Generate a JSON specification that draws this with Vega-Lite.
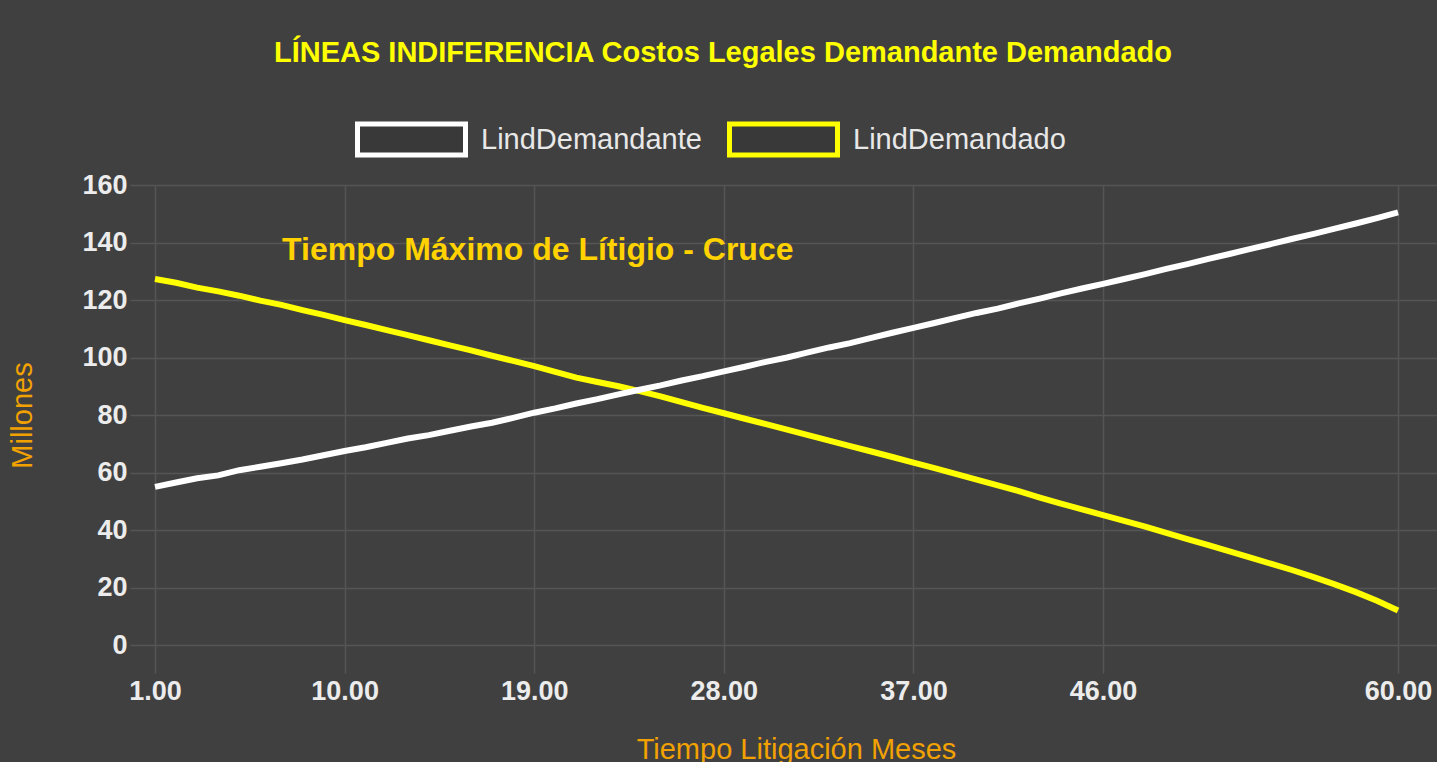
{
  "$schema": "https://vega.github.io/schema/vega-lite/v6.json",
  "autosize": {"type": "none"},
  "width": 1282,
  "height": 460,
  "padding": {"left": 155, "top": 185, "right": 0, "bottom": 117},
  "background": "#404040",
  "config": {
    "view": {"stroke": null},
    "font": "Liberation Sans"
  },
  "title": {
    "text": "LÍNEAS INDIFERENCIA Costos Legales Demandante Demandado",
    "fontSize": 29,
    "fontWeight": "bold",
    "color": "#ffff00",
    "font": "Liberation Sans",
    "anchor": "middle",
    "frame": "bounds",
    "offset": 15
  },
  "datasets": {
    "series": [
      {"mes": 1, "serie": "LindDemandado", "valor": 127.3},
      {"mes": 2, "serie": "LindDemandado", "valor": 126.0},
      {"mes": 3, "serie": "LindDemandado", "valor": 124.3},
      {"mes": 4, "serie": "LindDemandado", "valor": 123.0},
      {"mes": 5, "serie": "LindDemandado", "valor": 121.5},
      {"mes": 6, "serie": "LindDemandado", "valor": 119.8},
      {"mes": 7, "serie": "LindDemandado", "valor": 118.3},
      {"mes": 8, "serie": "LindDemandado", "valor": 116.5},
      {"mes": 9, "serie": "LindDemandado", "valor": 114.8},
      {"mes": 10, "serie": "LindDemandado", "valor": 113.0},
      {"mes": 11, "serie": "LindDemandado", "valor": 111.3},
      {"mes": 12, "serie": "LindDemandado", "valor": 109.5},
      {"mes": 13, "serie": "LindDemandado", "valor": 107.8},
      {"mes": 14, "serie": "LindDemandado", "valor": 106.0},
      {"mes": 15, "serie": "LindDemandado", "valor": 104.2},
      {"mes": 16, "serie": "LindDemandado", "valor": 102.5},
      {"mes": 17, "serie": "LindDemandado", "valor": 100.6},
      {"mes": 18, "serie": "LindDemandado", "valor": 98.8},
      {"mes": 19, "serie": "LindDemandado", "valor": 97.0},
      {"mes": 20, "serie": "LindDemandado", "valor": 95.0},
      {"mes": 21, "serie": "LindDemandado", "valor": 93.0},
      {"mes": 22, "serie": "LindDemandado", "valor": 91.5},
      {"mes": 23, "serie": "LindDemandado", "valor": 90.0},
      {"mes": 24, "serie": "LindDemandado", "valor": 88.3},
      {"mes": 25, "serie": "LindDemandado", "valor": 86.5},
      {"mes": 26, "serie": "LindDemandado", "valor": 84.5},
      {"mes": 27, "serie": "LindDemandado", "valor": 82.5},
      {"mes": 28, "serie": "LindDemandado", "valor": 80.6},
      {"mes": 29, "serie": "LindDemandado", "valor": 78.7},
      {"mes": 30, "serie": "LindDemandado", "valor": 76.8},
      {"mes": 31, "serie": "LindDemandado", "valor": 74.9},
      {"mes": 32, "serie": "LindDemandado", "valor": 73.0},
      {"mes": 33, "serie": "LindDemandado", "valor": 71.1},
      {"mes": 34, "serie": "LindDemandado", "valor": 69.2},
      {"mes": 35, "serie": "LindDemandado", "valor": 67.3},
      {"mes": 36, "serie": "LindDemandado", "valor": 65.4},
      {"mes": 37, "serie": "LindDemandado", "valor": 63.4},
      {"mes": 38, "serie": "LindDemandado", "valor": 61.5},
      {"mes": 39, "serie": "LindDemandado", "valor": 59.5},
      {"mes": 40, "serie": "LindDemandado", "valor": 57.5},
      {"mes": 41, "serie": "LindDemandado", "valor": 55.5},
      {"mes": 42, "serie": "LindDemandado", "valor": 53.5},
      {"mes": 43, "serie": "LindDemandado", "valor": 51.3},
      {"mes": 44, "serie": "LindDemandado", "valor": 49.2},
      {"mes": 45, "serie": "LindDemandado", "valor": 47.2},
      {"mes": 46, "serie": "LindDemandado", "valor": 45.2},
      {"mes": 47, "serie": "LindDemandado", "valor": 43.2},
      {"mes": 48, "serie": "LindDemandado", "valor": 41.2},
      {"mes": 49, "serie": "LindDemandado", "valor": 39.0},
      {"mes": 50, "serie": "LindDemandado", "valor": 36.8},
      {"mes": 51, "serie": "LindDemandado", "valor": 34.7},
      {"mes": 52, "serie": "LindDemandado", "valor": 32.6},
      {"mes": 53, "serie": "LindDemandado", "valor": 30.4},
      {"mes": 54, "serie": "LindDemandado", "valor": 28.2},
      {"mes": 55, "serie": "LindDemandado", "valor": 26.0},
      {"mes": 56, "serie": "LindDemandado", "valor": 23.6},
      {"mes": 57, "serie": "LindDemandado", "valor": 21.1},
      {"mes": 58, "serie": "LindDemandado", "valor": 18.4},
      {"mes": 59, "serie": "LindDemandado", "valor": 15.4},
      {"mes": 60, "serie": "LindDemandado", "valor": 12.0},
      {"mes": 1, "serie": "LindDemandante", "valor": 55.0},
      {"mes": 2, "serie": "LindDemandante", "valor": 56.5},
      {"mes": 3, "serie": "LindDemandante", "valor": 58.0},
      {"mes": 4, "serie": "LindDemandante", "valor": 59.0},
      {"mes": 5, "serie": "LindDemandante", "valor": 60.8},
      {"mes": 6, "serie": "LindDemandante", "valor": 62.0},
      {"mes": 7, "serie": "LindDemandante", "valor": 63.2},
      {"mes": 8, "serie": "LindDemandante", "valor": 64.5},
      {"mes": 9, "serie": "LindDemandante", "valor": 66.0},
      {"mes": 10, "serie": "LindDemandante", "valor": 67.5},
      {"mes": 11, "serie": "LindDemandante", "valor": 68.8},
      {"mes": 12, "serie": "LindDemandante", "valor": 70.3},
      {"mes": 13, "serie": "LindDemandante", "valor": 71.8},
      {"mes": 14, "serie": "LindDemandante", "valor": 73.0},
      {"mes": 15, "serie": "LindDemandante", "valor": 74.5},
      {"mes": 16, "serie": "LindDemandante", "valor": 76.0},
      {"mes": 17, "serie": "LindDemandante", "valor": 77.3},
      {"mes": 18, "serie": "LindDemandante", "valor": 79.0},
      {"mes": 19, "serie": "LindDemandante", "valor": 80.8},
      {"mes": 20, "serie": "LindDemandante", "valor": 82.3},
      {"mes": 21, "serie": "LindDemandante", "valor": 84.0},
      {"mes": 22, "serie": "LindDemandante", "valor": 85.5},
      {"mes": 23, "serie": "LindDemandante", "valor": 87.2},
      {"mes": 24, "serie": "LindDemandante", "valor": 88.8},
      {"mes": 25, "serie": "LindDemandante", "valor": 90.3},
      {"mes": 26, "serie": "LindDemandante", "valor": 92.0},
      {"mes": 27, "serie": "LindDemandante", "valor": 93.5},
      {"mes": 28, "serie": "LindDemandante", "valor": 95.2},
      {"mes": 29, "serie": "LindDemandante", "valor": 96.8},
      {"mes": 30, "serie": "LindDemandante", "valor": 98.5},
      {"mes": 31, "serie": "LindDemandante", "valor": 100.0},
      {"mes": 32, "serie": "LindDemandante", "valor": 101.8},
      {"mes": 33, "serie": "LindDemandante", "valor": 103.5},
      {"mes": 34, "serie": "LindDemandante", "valor": 105.0},
      {"mes": 35, "serie": "LindDemandante", "valor": 106.8},
      {"mes": 36, "serie": "LindDemandante", "valor": 108.6},
      {"mes": 37, "serie": "LindDemandante", "valor": 110.3},
      {"mes": 38, "serie": "LindDemandante", "valor": 112.0},
      {"mes": 39, "serie": "LindDemandante", "valor": 113.8},
      {"mes": 40, "serie": "LindDemandante", "valor": 115.5},
      {"mes": 41, "serie": "LindDemandante", "valor": 117.0},
      {"mes": 42, "serie": "LindDemandante", "valor": 118.8},
      {"mes": 43, "serie": "LindDemandante", "valor": 120.5},
      {"mes": 44, "serie": "LindDemandante", "valor": 122.3},
      {"mes": 45, "serie": "LindDemandante", "valor": 124.0},
      {"mes": 46, "serie": "LindDemandante", "valor": 125.6},
      {"mes": 47, "serie": "LindDemandante", "valor": 127.3},
      {"mes": 48, "serie": "LindDemandante", "valor": 129.0},
      {"mes": 49, "serie": "LindDemandante", "valor": 130.8},
      {"mes": 50, "serie": "LindDemandante", "valor": 132.5},
      {"mes": 51, "serie": "LindDemandante", "valor": 134.3},
      {"mes": 52, "serie": "LindDemandante", "valor": 136.0},
      {"mes": 53, "serie": "LindDemandante", "valor": 137.8},
      {"mes": 54, "serie": "LindDemandante", "valor": 139.5},
      {"mes": 55, "serie": "LindDemandante", "valor": 141.3},
      {"mes": 56, "serie": "LindDemandante", "valor": 143.0},
      {"mes": 57, "serie": "LindDemandante", "valor": 144.8},
      {"mes": 58, "serie": "LindDemandante", "valor": 146.6},
      {"mes": 59, "serie": "LindDemandante", "valor": 148.5},
      {"mes": 60, "serie": "LindDemandante", "valor": 150.5}
    ],
    "anotacion": [
      {"mes": 7.03, "valor": 134, "texto": "Tiempo Máximo de Lítigio - Cruce"}
    ]
  },
  "layer": [
    {
      "data": {"name": "series"},
      "mark": {"type": "line", "strokeWidth": 6, "interpolate": "linear"},
      "encoding": {
        "x": {
          "field": "mes",
          "type": "quantitative",
          "scale": {"domain": [1, 61.85], "nice": false, "zero": false},
          "axis": {
            "title": "Tiempo Litigación Meses",
            "values": [1, 10, 19, 28, 37, 46, 60],
            "format": ".2f",
            "labelFont": "Liberation Sans",
            "labelFontSize": 27,
            "labelFontWeight": "bold",
            "labelColor": "#ececec",
            "labelPadding": 5,
            "labelOverlap": false,
            "labelFlush": false,
            "labelBound": false,
            "tickSize": 28,
            "tickColor": "#555555",
            "tickWidth": 1.5,
            "grid": true,
            "gridColor": "#555555",
            "gridWidth": 1.5,
            "domain": false,
            "titleFont": "Liberation Sans",
            "titleFontSize": 29,
            "titleFontWeight": "normal",
            "titleColor": "#f2a200",
            "titlePadding": 31
          }
        },
        "y": {
          "field": "valor",
          "type": "quantitative",
          "scale": {"domain": [0, 160], "nice": false},
          "axis": {
            "title": "Millones",
            "values": [0, 20, 40, 60, 80, 100, 120, 140, 160],
            "labelFont": "Liberation Sans",
            "labelFontSize": 27,
            "labelFontWeight": "bold",
            "labelColor": "#ececec",
            "labelPadding": 3,
            "labelOverlap": false,
            "labelBound": false,
            "labelFlush": false,
            "tickSize": 25,
            "tickColor": "#555555",
            "tickWidth": 1.5,
            "grid": true,
            "gridColor": "#555555",
            "gridWidth": 1.5,
            "domain": false,
            "titleFont": "Liberation Sans",
            "titleFontSize": 29,
            "titleFontWeight": "normal",
            "titleColor": "#f2a200",
            "titlePadding": 44
          }
        },
        "color": {
          "field": "serie",
          "type": "nominal",
          "scale": {"domain": ["LindDemandante", "LindDemandado"], "range": ["#ffffff", "#ffff00"]},
          "legend": {
            "title": null,
            "orient": "none",
            "direction": "horizontal",
            "legendX": 200,
            "legendY": -102,
            "symbolType": "M-1,-0.287H1V0.287H-1Z",
            "symbolSize": 11664,
            "symbolStrokeWidth": 5,
            "symbolOpacity": 1,
            "labelFont": "Liberation Sans",
            "labelFontSize": 29,
            "labelColor": "#e8e8e8",
            "labelOffset": 13,
            "columnPadding": 17,
            "labelLimit": 400,
            "encode": {
              "symbols": {"update": {"fill": {"value": "#393939"}, "strokeWidth": {"value": 5}}}
            }
          }
        }
      }
    },
    {
      "data": {"name": "anotacion"},
      "mark": {
        "type": "text",
        "align": "left",
        "baseline": "alphabetic",
        "font": "Liberation Sans",
        "fontSize": 32,
        "fontWeight": "bold",
        "color": "#ffd200"
      },
      "encoding": {
        "x": {"field": "mes", "type": "quantitative"},
        "y": {"field": "valor", "type": "quantitative"},
        "text": {"field": "texto", "type": "nominal"}
      }
    }
  ]
}
